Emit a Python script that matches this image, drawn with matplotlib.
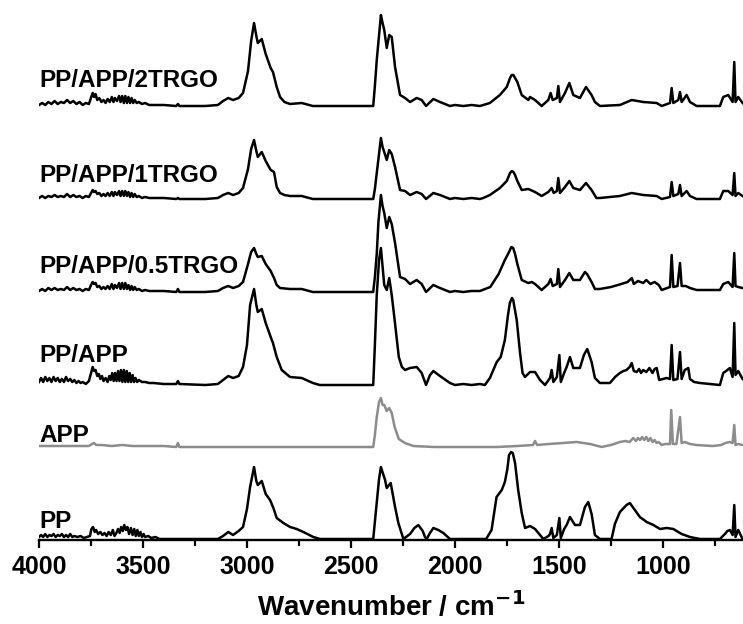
import matplotlib
matplotlib.use("Agg")
import matplotlib.pyplot as plt
from matplotlib.ticker import MultipleLocator

# spectra: (wavenumber / cm-1, absorbance, arbitrary units)
pp_app_2trgo = [
    (4000, 1), (3985, 3), (3970, 1), (3955, 4), (3940, 2), (3925, 5), (3910, 2), (3895, 4),
    (3880, 3), (3865, 6), (3850, 3), (3835, 5), (3820, 2), (3805, 4), (3790, 1), (3775, 3),
    (3760, 2), (3750, 8), (3742, 13), (3735, 9), (3728, 12), (3720, 6), (3710, 8), (3700, 4),
    (3690, 6), (3680, 3), (3670, 7), (3660, 4), (3650, 9), (3642, 4), (3635, 8), (3625, 5),
    (3615, 10), (3608, 4), (3600, 10), (3592, 3), (3585, 10), (3577, 3), (3570, 9), (3562, 3),
    (3555, 8), (3547, 3), (3540, 6), (3530, 3), (3520, 4), (3505, 2), (3490, 3), (3470, 1),
    (3450, 1), (3400, 1), (3340, 0), (3332, 2), (3325, 0), (3200, 0), (3140, 1), (3115, 5),
    (3090, 8), (3067, 6), (3040, 8), (3019, 13), (2995, 35), (2980, 65), (2966, 83), (2955, 70),
    (2948, 63), (2929, 67), (2910, 52), (2886, 38), (2875, 34), (2857, 19), (2841, 9), (2820, 4),
    (2793, 2), (2737, 3), (2683, 0), (2393, 0), (2385, 20), (2376, 46), (2356, 91), (2348, 83),
    (2340, 76), (2328, 58), (2316, 71), (2304, 69), (2288, 39), (2264, 11), (2240, 8), (2216, 4),
    (2184, 8), (2160, 6), (2139, 0), (2104, 7), (2072, 4), (2024, 0), (2000, 1), (1960, 0),
    (1920, 1), (1880, 0), (1864, 1), (1832, 3), (1784, 11), (1751, 19), (1735, 28), (1727, 31),
    (1719, 31), (1711, 28), (1700, 24), (1679, 11), (1647, 6), (1639, 9), (1615, 6), (1583, 0),
    (1551, 6), (1540, 13), (1530, 6), (1510, 8), (1503, 20), (1495, 4), (1471, 13), (1450, 23),
    (1431, 11), (1399, 8), (1370, 19), (1343, 11), (1327, 4), (1303, 0), (1207, 1), (1150, 6),
    (1095, 4), (1030, 3), (1006, 0), (966, 3), (958, 18), (950, 3), (926, 6), (918, 14),
    (910, 4), (886, 11), (870, 4), (838, 0), (726, 0), (710, 9), (686, 11), (665, 4),
    (657, 44), (651, 4), (638, 9), (617, 3),
]

pp_app_1trgo = [
    (4000, 1), (3985, 3), (3970, 1), (3955, 3), (3940, 2), (3925, 4), (3910, 2), (3895, 3),
    (3880, 2), (3865, 5), (3850, 2), (3835, 4), (3820, 2), (3805, 3), (3790, 1), (3775, 3),
    (3760, 2), (3750, 6), (3742, 9), (3735, 7), (3728, 8), (3720, 5), (3710, 6), (3700, 3),
    (3690, 5), (3680, 3), (3670, 6), (3660, 3), (3650, 7), (3642, 3), (3635, 7), (3625, 4),
    (3615, 8), (3608, 3), (3600, 8), (3592, 3), (3585, 8), (3577, 3), (3570, 7), (3562, 2),
    (3555, 6), (3547, 2), (3540, 5), (3530, 2), (3520, 3), (3505, 1), (3490, 2), (3470, 1),
    (3450, 1), (3400, 1), (3340, 0), (3332, 1), (3325, 0), (3200, 0), (3140, 1), (3115, 4),
    (3090, 6), (3067, 4), (3040, 6), (3019, 11), (2995, 30), (2980, 50), (2966, 59), (2955, 48),
    (2948, 42), (2929, 47), (2910, 38), (2886, 29), (2870, 27), (2857, 12), (2841, 6), (2820, 4),
    (2793, 3), (2737, 3), (2683, 0), (2393, 0), (2385, 10), (2376, 26), (2356, 61), (2348, 52),
    (2340, 47), (2328, 39), (2316, 49), (2304, 45), (2288, 32), (2264, 9), (2240, 8), (2216, 4),
    (2184, 7), (2160, 5), (2139, 0), (2104, 6), (2072, 4), (2024, 0), (2000, 1), (1960, 0),
    (1920, 1), (1880, 0), (1864, 1), (1832, 4), (1784, 11), (1751, 18), (1735, 26), (1727, 28),
    (1719, 27), (1711, 24), (1700, 18), (1679, 9), (1647, 10), (1615, 7), (1583, 3), (1551, 7),
    (1535, 11), (1525, 6), (1510, 8), (1503, 21), (1495, 6), (1471, 12), (1450, 18), (1431, 11),
    (1399, 9), (1370, 16), (1343, 9), (1320, 1), (1303, 1), (1207, 3), (1150, 6), (1095, 4),
    (1030, 3), (1006, 0), (966, 2), (958, 17), (950, 3), (926, 5), (918, 14), (910, 3),
    (886, 8), (870, 3), (838, 0), (726, 0), (710, 8), (686, 8), (665, 4), (657, 26),
    (651, 3), (638, 6), (617, 3),
]

pp_app_05trgo = [
    (4000, 1), (3985, 3), (3970, 1), (3955, 4), (3940, 2), (3925, 4), (3910, 2), (3895, 3),
    (3880, 2), (3865, 5), (3850, 2), (3835, 4), (3820, 2), (3805, 3), (3790, 1), (3775, 3),
    (3760, 2), (3750, 7), (3742, 10), (3735, 8), (3728, 9), (3720, 5), (3710, 6), (3700, 3),
    (3690, 5), (3680, 3), (3670, 6), (3660, 3), (3650, 8), (3642, 3), (3635, 7), (3625, 4),
    (3615, 9), (3608, 3), (3600, 9), (3592, 3), (3585, 9), (3577, 3), (3570, 7), (3562, 2),
    (3555, 6), (3547, 2), (3540, 5), (3530, 2), (3520, 3), (3505, 1), (3490, 2), (3470, 1),
    (3450, 1), (3400, 1), (3340, 0), (3332, 3), (3325, 0), (3200, 0), (3140, 1), (3115, 4),
    (3090, 6), (3067, 4), (3040, 6), (3019, 10), (2995, 28), (2980, 40), (2966, 44), (2955, 38),
    (2948, 35), (2929, 36), (2910, 28), (2886, 21), (2870, 14), (2857, 7), (2841, 4), (2793, 3),
    (2737, 3), (2683, 0), (2393, 0), (2385, 15), (2376, 38), (2368, 70), (2356, 97), (2348, 86),
    (2340, 79), (2328, 64), (2316, 75), (2304, 68), (2288, 49), (2264, 15), (2240, 13), (2216, 8),
    (2184, 12), (2160, 8), (2139, 0), (2104, 7), (2072, 4), (2024, 0), (2000, 1), (1960, 0),
    (1920, 1), (1880, 1), (1830, 5), (1790, 18), (1760, 32), (1740, 40), (1729, 45), (1720, 44),
    (1711, 38), (1700, 28), (1679, 12), (1647, 9), (1630, 10), (1615, 8), (1583, 2), (1551, 8),
    (1540, 13), (1530, 6), (1510, 8), (1503, 23), (1495, 5), (1471, 12), (1450, 19), (1431, 12),
    (1399, 12), (1375, 20), (1365, 18), (1343, 10), (1327, 3), (1303, 3), (1250, 5), (1200, 8),
    (1170, 10), (1150, 14), (1140, 8), (1120, 11), (1095, 9), (1080, 12), (1060, 8), (1040, 10),
    (1020, 7), (1006, 2), (966, 5), (958, 37), (950, 5), (930, 6), (918, 29), (910, 6),
    (890, 6), (870, 4), (838, 2), (726, 2), (710, 8), (686, 10), (665, 5), (657, 39),
    (651, 6), (638, 5), (617, 4),
]

pp_app = [
    (4000, 3), (3990, 7), (3980, 3), (3970, 8), (3960, 4), (3950, 7), (3940, 3), (3930, 8),
    (3920, 4), (3910, 7), (3900, 3), (3890, 6), (3880, 3), (3870, 8), (3860, 4), (3850, 6),
    (3840, 3), (3830, 5), (3820, 2), (3810, 4), (3800, 2), (3790, 3), (3775, 1), (3760, 4),
    (3750, 12), (3742, 18), (3735, 14), (3728, 15), (3720, 9), (3712, 11), (3705, 6), (3697, 9),
    (3690, 4), (3680, 7), (3670, 3), (3662, 9), (3655, 5), (3648, 12), (3641, 4), (3634, 12),
    (3627, 4), (3620, 14), (3613, 4), (3606, 15), (3599, 3), (3592, 15), (3585, 3), (3578, 14),
    (3571, 3), (3564, 12), (3557, 3), (3550, 10), (3543, 3), (3536, 7), (3528, 3), (3520, 5),
    (3505, 3), (3490, 3), (3470, 2), (3450, 2), (3400, 1), (3340, 1), (3332, 4), (3325, 1),
    (3200, 0), (3140, 1), (3115, 5), (3090, 9), (3067, 7), (3040, 9), (3019, 18), (3000, 40),
    (2985, 80), (2966, 96), (2955, 80), (2948, 73), (2929, 76), (2910, 62), (2886, 48), (2875, 42),
    (2857, 28), (2833, 15), (2793, 8), (2737, 7), (2683, 2), (2650, 0), (2393, 0), (2385, 40),
    (2376, 90), (2365, 125), (2356, 137), (2348, 118), (2340, 100), (2328, 95), (2316, 107),
    (2304, 90), (2290, 65), (2270, 28), (2255, 18), (2240, 15), (2216, 17), (2184, 18),
    (2160, 12), (2139, 0), (2120, 10), (2104, 14), (2072, 9), (2024, 2), (2000, 0), (1960, 1),
    (1920, 0), (1880, 1), (1856, 0), (1832, 7), (1799, 23), (1780, 28), (1760, 45), (1745, 70),
    (1736, 82), (1726, 87), (1720, 85), (1703, 65), (1687, 32), (1675, 12), (1663, 8), (1639, 13),
    (1615, 13), (1591, 5), (1567, 0), (1543, 7), (1535, 15), (1527, 3), (1510, 8), (1498, 30),
    (1491, 3), (1475, 12), (1463, 18), (1447, 28), (1431, 17), (1399, 17), (1380, 30), (1364, 36),
    (1343, 23), (1327, 7), (1303, 2), (1255, 2), (1230, 8), (1207, 12), (1190, 14), (1175, 15),
    (1160, 18), (1150, 22), (1140, 14), (1126, 13), (1115, 16), (1105, 12), (1095, 15), (1080, 13),
    (1065, 17), (1050, 12), (1040, 16), (1030, 17), (1018, 5), (1000, 6), (982, 7), (966, 6),
    (958, 40), (950, 5), (930, 6), (918, 33), (910, 6), (895, 15), (878, 17), (870, 6),
    (850, 3), (822, 2), (726, 0), (710, 12), (690, 15), (678, 17), (665, 8), (657, 62),
    (651, 10), (638, 14), (617, 6),
]

app = [
    (4000, 1), (3900, 1), (3800, 1), (3760, 1), (3745, 3), (3735, 4), (3725, 2), (3700, 2),
    (3650, 1), (3600, 2), (3550, 1), (3500, 1), (3400, 1), (3340, 0), (3332, 4), (3325, 0),
    (3200, 0), (2500, 0), (2393, 0), (2385, 12), (2376, 30), (2365, 45), (2356, 49), (2348, 42),
    (2340, 42), (2328, 36), (2316, 39), (2304, 34), (2290, 20), (2270, 8), (2240, 4), (2200, 1),
    (2100, 0), (1800, 0), (1700, 1), (1625, 2), (1615, 6), (1605, 2), (1550, 3), (1480, 4),
    (1415, 5), (1350, 3), (1295, 0), (1250, 2), (1207, 5), (1180, 6), (1160, 5), (1143, 9),
    (1130, 6), (1120, 9), (1110, 7), (1100, 10), (1090, 7), (1080, 10), (1070, 6), (1060, 9),
    (1050, 5), (1040, 7), (1030, 4), (1020, 5), (1006, 2), (990, 3), (966, 3), (960, 37),
    (952, 3), (935, 3), (918, 30), (910, 4), (895, 5), (870, 3), (840, 2), (760, 1),
    (720, 2), (700, 4), (680, 5), (665, 4), (657, 22), (651, 2), (638, 3), (617, 2),
]

pp = [
    (4000, 2), (3990, 4), (3980, 2), (3970, 5), (3960, 2), (3950, 4), (3940, 3), (3930, 5),
    (3920, 2), (3910, 4), (3900, 3), (3890, 5), (3880, 2), (3870, 4), (3860, 2), (3850, 5),
    (3840, 2), (3830, 3), (3815, 2), (3800, 3), (3785, 1), (3770, 2), (3755, 3), (3748, 10),
    (3740, 12), (3732, 7), (3725, 9), (3716, 5), (3705, 7), (3695, 4), (3685, 6), (3675, 3),
    (3665, 7), (3655, 4), (3645, 9), (3637, 3), (3628, 6), (3620, 10), (3612, 6), (3605, 12),
    (3597, 8), (3590, 14), (3582, 9), (3575, 12), (3567, 5), (3558, 11), (3550, 4), (3542, 10),
    (3535, 3), (3527, 9), (3520, 3), (3512, 7), (3505, 2), (3497, 5), (3490, 2), (3475, 3),
    (3460, 1), (3440, 2), (3420, 0), (3300, 0), (3140, 0), (3115, 3), (3090, 7), (3067, 4),
    (3040, 8), (3019, 12), (3000, 30), (2985, 52), (2966, 72), (2955, 58), (2948, 54), (2929, 58),
    (2910, 45), (2889, 39), (2873, 31), (2857, 21), (2825, 16), (2793, 12), (2761, 10), (2729, 7),
    (2681, 2), (2649, 0), (2393, 0), (2376, 36), (2365, 60), (2356, 72), (2336, 59), (2328, 51),
    (2309, 56), (2288, 32), (2272, 16), (2248, 0), (2216, 5), (2195, 11), (2176, 14), (2155, 8),
    (2144, 2), (2136, 0), (2120, 6), (2104, 11), (2080, 9), (2056, 6), (2024, 0), (1850, 0),
    (1824, 9), (1800, 42), (1775, 49), (1760, 57), (1748, 70), (1740, 84), (1730, 87), (1722, 86),
    (1711, 76), (1696, 49), (1679, 26), (1663, 11), (1639, 13), (1615, 10), (1591, 4), (1575, 0),
    (1550, 3), (1543, 5), (1535, 11), (1527, 1), (1510, 4), (1498, 21), (1491, 1), (1475, 10),
    (1463, 14), (1447, 22), (1423, 14), (1399, 14), (1375, 32), (1359, 37), (1343, 25), (1327, 4),
    (1303, 0), (1247, 0), (1231, 15), (1207, 27), (1175, 34), (1159, 36), (1135, 29), (1111, 22),
    (1078, 17), (1046, 14), (1014, 10), (982, 11), (950, 10), (910, 5), (870, 2), (822, 0),
    (726, 0), (702, 5), (690, 8), (678, 9), (665, 4), (657, 34), (651, 2), (638, 9), (617, 0),
]

names = ["PP/APP/2TRGO", "PP/APP/1TRGO", "PP/APP/0.5TRGO", "PP/APP", "APP", "PP"]
spectra = [pp_app_2trgo, pp_app_1trgo, pp_app_05trgo, pp_app, app, pp]

# vertical stacking and label placement (pixels of the original chart)
offsets = [434, 341, 248, 155, 93, 1]
label_gap = [19, 17, 19, 23, 5, 11]
colors = ["black", "black", "black", "black", "#8c8c8c", "black"]

plt.rcParams['font.family'] = ['Liberation Sans', 'DejaVu Sans']
plt.rcParams['font.weight'] = 'bold'

fig = plt.figure(figsize=(7.43, 6.24), dpi=100)
ax = fig.add_axes([39 / 743, 84 / 624, 704 / 743, 540 / 624])

for name, data, off, gap, c in zip(names, spectra, offsets, label_gap, colors):
    wn = [p[0] for p in data]
    ab = [p[1] + off for p in data]
    ax.plot(wn, ab, color=c, lw=1.8, solid_joinstyle='round')
    ax.text(3998, off + gap, name, fontsize=17.5, fontweight='bold',
            ha='left', va='baseline')

ax.set_xlim(4000, 615)
ax.set_ylim(0, 540)
ax.set_yticks([])
for s in ['top', 'left', 'right']:
    ax.spines[s].set_visible(False)
ax.spines['bottom'].set_linewidth(1.7)
ax.xaxis.set_major_locator(MultipleLocator(500))
ax.xaxis.set_minor_locator(MultipleLocator(250))
ax.tick_params(axis='x', which='major', direction='out', length=5.5, width=1.6,
               labelsize=18, pad=5)
ax.tick_params(axis='x', which='minor', direction='out', length=4, width=1.6)
for lab in ax.get_xticklabels():
    lab.set_fontweight('bold')
ax.set_xlabel("Wavenumber / cm$^{\\mathbf{-1}}$", fontsize=20, fontweight='bold', labelpad=9)
ax.patch.set_alpha(0)

fig.savefig("out.png", dpi=100)
